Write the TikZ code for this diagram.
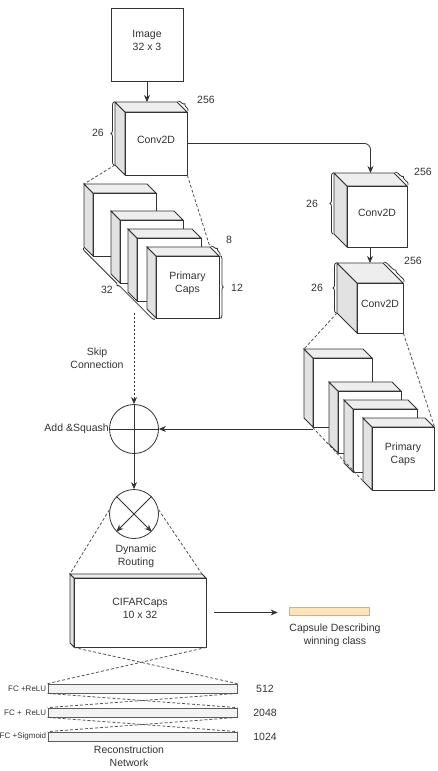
\documentclass[tikz,border=0pt]{standalone}
\usepackage{fontspec}
\setmainfont{Liberation Sans}
\usetikzlibrary{fit,arrows.meta,decorations.pathreplacing}
\definecolor{linegray}{HTML}{333333}
\definecolor{sidegray}{HTML}{E2E2E2}
\definecolor{topgray}{HTML}{EEEEEE}
\definecolor{bargray}{HTML}{F3F3F3}
\definecolor{capfill}{HTML}{FFE2B5}
\definecolor{capdraw}{HTML}{E6AE4C}

\tikzset{
  side/.style={fill=sidegray,draw=linegray},
  topface/.style={fill=topgray,draw=linegray},
  front/.style={draw=linegray,fill=white,inner sep=0pt,align=center},
  bar/.style={draw=linegray!80,fill=bargray,inner sep=0pt},
  proj/.style={draw=linegray!85,dash pattern=on 3pt off 2pt},
  arr/.style={draw=linegray,-{Stealth[length=7pt,width=6pt]}},
  brc/.style={draw=linegray,decorate,decoration={brace,amplitude=3pt,raise=1pt}},
  lbl/.style={align=center,inner sep=0pt}
}

% name, x1, y1, x2, y2 (front face), depth, text
\newcommand{\layerbox}[7]{
  \filldraw[side] (#2,#3) -- ({#2-#6},{#3-#6}) -- ({#2-#6},{#5-#6}) -- (#2,#5) -- cycle;
  \filldraw[topface] (#2,#3) -- ({#2-#6},{#3-#6}) -- ({#4-#6},{#3-#6}) -- (#4,#3) -- cycle;
  \node[front,fit={(#2,#3) (#4,#5)}] (#1) {#7};
  \coordinate (#1-bnw) at ({#2-#6},{#3-#6});
  \coordinate (#1-bne) at ({#4-#6},{#3-#6});
  \coordinate (#1-bsw) at ({#2-#6},{#5-#6});
  \coordinate (#1-t) at ({(#2+#4-#6)/2},{#3-#6});
}

\begin{document}
\begin{tikzpicture}[x=1pt,y=-1pt,line width=0.8pt,
    every node/.style={text=linegray,font=\fontsize{10.5}{13}\selectfont}]
        \useasboundingbox (0,0) rectangle (438,771);

        % input and first convolution
        \node[front,fit={(111,8) (183,81)}] (img) {Image\\32 x 3};
        \layerbox{c1}{125}{112}{187}{175}{10}{Conv2D}
        \draw[arr] (img.south) -- (img.south |- c1-bnw);
        \draw[brc] (c1-bsw) -- (c1-bnw);
        \node[lbl] at (98,133) {26};
        \draw[brc] (c1-bne) -- (c1.north east);
        \node[lbl] at (206,100) {256};

        % second branch
        \layerbox{rc1}{347}{186}{407}{247}{13}{Conv2D}
        \draw[arr,rounded corners=6pt] (c1.east) -| (rc1-t);
        \draw[brc] (rc1-bsw) -- (rc1-bnw);
        \node[lbl] at (312,204) {26};
        \draw[brc] (rc1-bne) -- (rc1.north east);
        \node[lbl] at (423,172) {256};

        \layerbox{rc2}{357}{283}{403}{333}{20}{Conv2D}
        \draw[arr] (rc2-t |- rc1.south) -- (rc2-t);
        \draw[brc] (rc2-bsw) -- (rc2-bnw);
        \node[lbl] at (317,288) {26};
        \draw[brc] (rc2-bne) -- (rc2.north east);
        \node[lbl] at (413,261) {256};

        % primary caps, left
        \layerbox{lA}{93}{193}{156}{256}{9}{}
        \layerbox{lB}{120}{220}{183}{283}{9}{}
        \layerbox{lC}{137}{238}{201}{301}{9}{}
        \layerbox{lD}{156}{256}{219}{318}{9}{Primary\\Caps}
        \draw[proj] (c1-bsw) -- (lA-bnw);
        \draw[proj] (c1.south east) -- (lD-bne);
        \draw[brc] (lD.north east) -- (lD.south east);
        \node[lbl] at (237,288) {12};
        \draw[brc] (lD-bne) -- (lD.north east);
        \node[lbl] at (229,240) {8};
        \draw[brc] (lD.south west) -- (lA-bsw);
        \node[lbl] at (107,290) {32};

        % primary caps, right
        \layerbox{rA}{313}{358}{372}{427}{9}{}
        \layerbox{rB}{338}{391}{401}{453}{9}{}
        \layerbox{rC}{353}{409}{417}{472}{9}{}
        \layerbox{rD}{372}{427}{434}{490}{9}{Primary\\Caps}
        \draw[proj] (rc2-bsw) -- (rA-bnw);
        \draw[proj] (rc2.south east) -- (rD.north east);
        \draw[proj] (rA.south west) -- (rD-bsw);

        % add and squash
        \node[circle,draw=linegray,minimum size=49pt,inner sep=0pt] (add) at (134,429) {};
        \draw[linegray] (add.north) -- (add.south);
        \draw[linegray] (add.west) -- (add.east);
        \node[anchor=east,inner sep=0pt] at (add.west) {Add \&Squash};
        \coordinate (skip) at (134,313);
        \draw[arr,dash pattern=on 2pt off 2pt] (skip) -- (add.north);
        \node[lbl] at (97,358) {Skip\\Connection};
        \draw[arr] (rA.south west |- add.east) -- (add.east);

        % dynamic routing
        \node[circle,draw=linegray,minimum size=49pt,inner sep=0pt] (route) at (134,514) {};
        \draw[arr] (add.south) -- (route.north);
        \draw[arr] (route.135) -- (route.-45);
        \draw[arr] (route.45) -- (route.-135);
        \node[lbl] at (136,556) {Dynamic\\Routing};

        % digit caps
        \layerbox{cifar}{74}{578}{206}{647}{4}{CIFARCaps\\10 x 32}
        \draw[proj] (route.170) -- (cifar-bnw);
        \draw[proj] (route.10) -- (cifar-bne);
        \node[fill=capfill,draw=capdraw,fit={(289,607) (369,615)},inner sep=0pt] (win) {};
        \draw[arr,shorten <=8pt,shorten >=11pt] (cifar.east) -- (cifar.east -| win.west);
        \node[lbl] at (335,635) {Capsule Describing\\winning class};

        % reconstruction
        \foreach \n/\ya/\yb/\lab/\num in {1/684/693/{FC +ReLU}/512,
                                         2/708/717/{FC +\enspace ReLU}/2048,
                                         3/732/741/{FC +Sigmoid}/1024}{
            \node[bar,fit={(48,\ya) (237,\yb)}] (bar\n) {};
            \node[anchor=east,inner sep=0pt,font=\fontsize{8}{10}\selectfont]
                at ([xshift=-1pt]bar\n.west) {\lab};
            \node[lbl] at (265,\ya+5) {\num};
        }
        \draw[proj] (cifar.south west) -- (bar1.north east);
        \draw[proj] (cifar.south east) -- (bar1.north west);
        \draw[proj] (bar1.south west) -- (bar2.north east);
        \draw[proj] (bar1.south east) -- (bar2.north west);
        \draw[proj] (bar2.south west) -- (bar3.north east);
        \draw[proj] (bar2.south east) -- (bar3.north west);
        \node[lbl] at (129,756) {Reconstruction\\Network};
\end{tikzpicture}
\end{document}
